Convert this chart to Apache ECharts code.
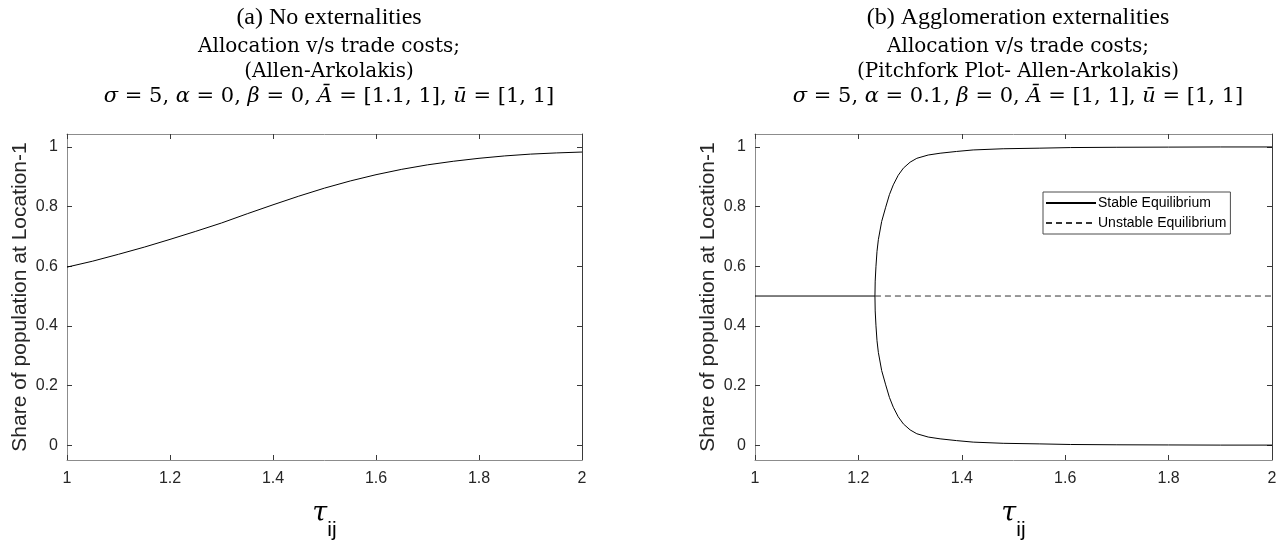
<!DOCTYPE html>
<html>
<head>
<meta charset="utf-8">
<script src="https://cdn.jsdelivr.net/npm/echarts@6/dist/echarts.min.js"></script>
<style>html,body{margin:0;padding:0;background:#fff}#c{width:1283px;height:546px}</style>
</head>
<body>
<div id="c"></div>
<script>
// ---- data ----
const yTicks = [0, 0.2, 0.4, 0.6, 0.8, 1];
// (a) no externalities
const tauA = [1.00,1.05,1.10,1.15,1.20,1.25,1.30,1.35,1.40,1.45,1.50,1.55,1.60,1.65,1.70,1.75,1.80,1.85,1.90,1.95,2.00];
const shareA = [0.597,0.617,0.640,0.664,0.690,0.717,0.745,0.776,0.806,0.835,0.862,0.886,0.907,0.925,0.940,0.952,0.962,0.970,0.976,0.980,0.983];
// (b) agglomeration externalities
const tauSym = [1.0, 1.232];
const shareSym = [0.5, 0.5];
const tauUnstable = [1.232, 2.0];
const shareUnstable = [0.5, 0.5];
const tauBranch = [1.232,1.2325,1.234,1.236,1.2386,1.245,1.2528,1.26,1.2675,1.277,1.287,1.30,1.313,1.335,1.358,1.39,1.422,1.48,1.551,1.61,1.70,1.80,1.90,2.00];
const shareUpper = [0.5,0.55,0.60,0.65,0.689,0.75,0.798,0.840,0.873,0.905,0.929,0.949,0.962,0.973,0.979,0.985,0.990,0.994,0.996,0.998,0.999,0.9995,1.0,1.0];
const shareLower = [0.5,0.45,0.40,0.35,0.311,0.25,0.202,0.160,0.127,0.095,0.071,0.051,0.038,0.027,0.021,0.015,0.010,0.006,0.004,0.002,0.001,0.0005,0.0,0.0];
const legendNames = ['Stable Equilibrium', 'Unstable Equilibrium'];

const pairs = (xs, ys) => xs.map((x, i) => [x, ys[i]]);

const chart = echarts.init(document.getElementById('c'), null, {renderer: 'canvas'});

const grids = [
  {left: 67, top: 134, width: 515, height: 327},
  {left: 755, top: 134, width: 517, height: 327}
];
const gray = '#8c8c8c', dark = '#3a3a3a';
const labelStyle = {color: '#262626', fontFamily: 'Liberation Sans, Arial, sans-serif', fontSize: 16};

function xAxes(gi) {
  return [
    {gridIndex: gi, type: 'value', min: 1, max: 2, interval: 0.2, position: 'bottom',
     axisLine: {onZero: false, lineStyle: {color: gray, width: 1}}, axisTick: {inside: true, length: 5, lineStyle: {color: dark}},
     axisLabel: Object.assign({margin: 11, formatter: v => String(+v.toFixed(1))}, labelStyle),
     splitLine: {show: false},
     name: '{t|τ}{s|ij}', nameLocation: 'middle', nameGap: 40,
     nameTextStyle: {rich: {
       t: {fontFamily: 'DejaVu Serif, serif', fontStyle: 'italic', fontSize: 27, color: '#000', verticalAlign: 'top'},
       s: {fontFamily: 'Liberation Sans, sans-serif', fontSize: 21, color: '#000', padding: [20, 0, 0, 0], verticalAlign: 'top'}
     }}},
    {gridIndex: gi, type: 'value', min: 1, max: 2, interval: 0.2, position: 'top',
     axisLine: {show: true, onZero: false, lineStyle: {color: gray, width: 1}}, axisTick: {inside: true, length: 5, lineStyle: {color: dark}},
     axisLabel: {show: false}, splitLine: {show: false}}
  ];
}
function yAxes(gi) {
  return [
    {gridIndex: gi, type: 'value', min: -0.05, max: 1.0435, position: 'left',
     axisLine: {show: true, onZero: false, lineStyle: {color: gray, width: 1}},
     axisTick: {inside: true, length: 5, customValues: yTicks, lineStyle: {color: dark}},
     axisLabel: Object.assign({margin: 9, customValues: yTicks}, labelStyle),
     splitLine: {show: false},
     name: 'Share of population at Location-1', nameLocation: 'middle', nameGap: 36, nameRotate: 90,
     nameTextStyle: {fontFamily: 'Liberation Sans, Arial, sans-serif', fontSize: 21, color: '#262626'}},
    {gridIndex: gi, type: 'value', min: -0.05, max: 1.0435, position: 'right',
     axisLine: {show: true, onZero: false, lineStyle: {color: dark, width: 1}},
     axisTick: {inside: true, length: 5, customValues: yTicks, lineStyle: {color: dark}},
     axisLabel: {show: false}, splitLine: {show: false}}
  ];
}

const lineBase = {type: 'line', symbol: 'none', smooth: false, animation: false};
const serifTitle = {fontFamily: 'Liberation Serif, Times New Roman, serif', fontSize: 24, fontWeight: 'normal', color: '#000'};
const texRich = {
  fontFamily: 'DejaVu Serif, serif', fontSize: 20, fontWeight: 'normal', color: '#000', lineHeight: 25,
  rich: {
    i: {fontFamily: 'DejaVu Serif, serif', fontStyle: 'italic', fontSize: 21, color: '#000', lineHeight: 25},
    m: {fontFamily: 'DejaVu Serif, serif', fontSize: 21, color: '#000', lineHeight: 25}
  }
};

chart.setOption({
  animation: false,
  title: [
    {text: '(a) No externalities', left: 324, top: 1, textAlign: 'center', textStyle: serifTitle},
    {text: '(b) Agglomeration externalities', left: 1013, top: 1, textAlign: 'center', textStyle: serifTitle},
    {text: 'Allocation v/s trade costs;\n(Allen-Arkolakis)\n{i|σ}{m| = 5, }{i|α}{m| = 0, }{i|β}{m| = 0, }{i|Ā}{m| = [1.1, 1], }{i|ū}{m| = [1, 1]}',
     left: 324, top: 29, textAlign: 'center', textStyle: texRich},
    {text: 'Allocation v/s trade costs;\n(Pitchfork Plot- Allen-Arkolakis)\n{i|σ}{m| = 5, }{i|α}{m| = 0.1, }{i|β}{m| = 0, }{i|Ā}{m| = [1, 1], }{i|ū}{m| = [1, 1]}',
     left: 1013, top: 29, textAlign: 'center', textStyle: texRich}
  ],
  grid: grids,
  xAxis: [...xAxes(0), ...xAxes(1)],
  yAxis: [...yAxes(0), ...yAxes(1)],
  legend: {
    data: legendNames, orient: 'vertical', left: 1043, top: 192,
    itemWidth: 50, itemHeight: 10, itemGap: 6,
    itemStyle: {opacity: 0},
    backgroundColor: '#fff', borderColor: '#4d4d4d', borderWidth: 1, padding: [4, 4, 4, 2],
    textStyle: {fontFamily: 'Liberation Sans, Arial, sans-serif', fontSize: 14, color: '#000', padding: [0, 0, 0, -3]}
  },
  series: [
    Object.assign({}, lineBase, {name: 'a', xAxisIndex: 0, yAxisIndex: 0, data: pairs(tauA, shareA), lineStyle: {color: '#000', width: 1}}),
    Object.assign({}, lineBase, {name: legendNames[0], xAxisIndex: 2, yAxisIndex: 2, data: pairs(tauSym, shareSym), lineStyle: {color: '#000', width: 1}, itemStyle: {color: '#000', opacity: 0}}),
    Object.assign({}, lineBase, {name: legendNames[0], xAxisIndex: 2, yAxisIndex: 2, data: pairs(tauBranch, shareUpper), lineStyle: {color: '#000', width: 1}, itemStyle: {color: '#000', opacity: 0}}),
    Object.assign({}, lineBase, {name: legendNames[0], xAxisIndex: 2, yAxisIndex: 2, data: pairs(tauBranch, shareLower), lineStyle: {color: '#000', width: 1}, itemStyle: {color: '#000', opacity: 0}}),
    Object.assign({}, lineBase, {name: legendNames[1], xAxisIndex: 2, yAxisIndex: 2, data: pairs(tauUnstable, shareUnstable), lineStyle: {color: '#333', width: 1, type: [6, 4]}, itemStyle: {color: '#333', opacity: 0}})
  ]
});
</script>
</body>
</html>
